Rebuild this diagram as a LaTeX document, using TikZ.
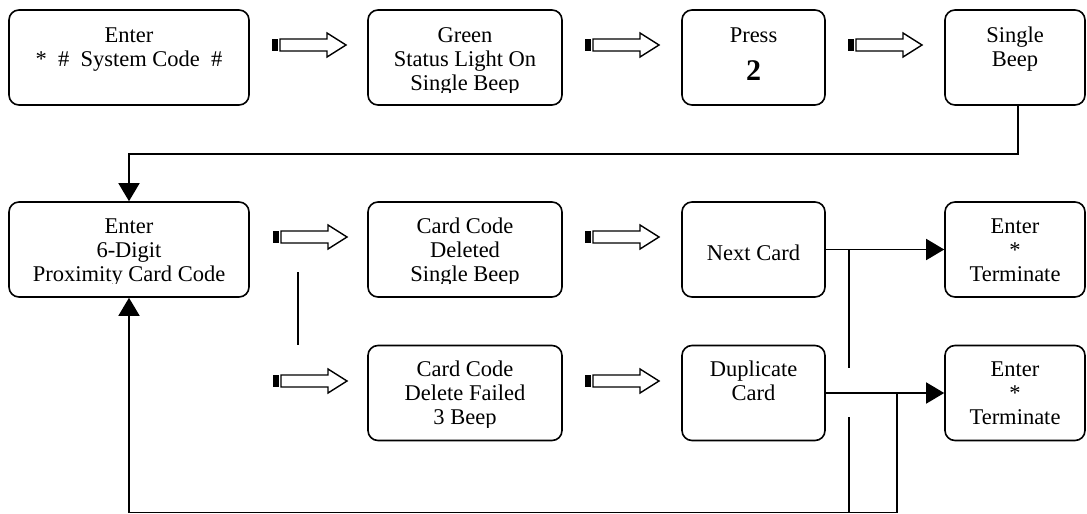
\documentclass[tikz,border=0pt]{standalone}
\usepackage{fontspec}
\setmainfont{Liberation Serif}
\usetikzlibrary{arrows.meta,calc}
\begin{document}
\begin{tikzpicture}[x=1pt,y=-1pt,
  box/.style={draw,line width=1.6pt,rounded corners=10pt,minimum width=#1,minimum height=95pt,inner sep=0pt},
  box/.default=143pt,
  txt/.style={font=\fontsize{22.5}{24}\selectfont,align=center,inner sep=0pt,anchor=base},
  conn/.style={line width=1.6pt},
  tip/.style={conn,-{Triangle[length=18pt,width=21pt]}},
  hollow/.pic={
    \fill (0,-6) rectangle (5.5,6);
    \draw[line width=1.4pt,fill=white] (8,-6) -- (55,-6) -- (55,-12) -- (74,0) -- (55,12) -- (55,6) -- (8,6) -- cycle;
  }]
\useasboundingbox (0,0) rectangle (1087,514);

% boxes
\node[box=240pt] (b1) at (129,57.5) {};
\node[box=194pt] (b2) at (465,57.5) {};
\node[box=143pt] (b3) at (753.5,57.5) {};
\node[box=140pt] (b4) at (1015,57.5) {};
\node[box=240pt] (b5) at (129,249.5) {};
\node[box=194pt] (b6) at (465,249.5) {};
\node[box=143pt] (b7) at (753.5,249.5) {};
\node[box=140pt] (b8) at (1015,249.5) {};
\node[box=194pt] (b9) at (465,393) {};
\node[box=143pt] (b10) at (753.5,393) {};
\node[box=140pt] (b11) at (1015,393) {};

% texts (anchor = baseline of last line)
\node[txt] (t1) at (129,66) {Enter\\* \ \# \ System Code \ \#};
\begin{scope}
  \clip (368,10) rectangle (562,92);
  \node[txt] (t2) at (465,90) {Green\\Status Light On\\Single Beep};
\end{scope}
\node[txt] (t3) at (753.5,42) {Press};
\node[txt,font=\fontsize{30}{30}\selectfont\bfseries] (t3b) at (753.5,80) {2};
\node[txt] (t4) at (1015,66) {Single\\Beep};
\begin{scope}
  \clip (9,202) rectangle (249,283);
  \node[txt] (t5) at (129,281) {Enter\\6-Digit\\Proximity Card Code};
\end{scope}
\begin{scope}
  \clip (368,202) rectangle (562,283);
  \node[txt] (t6) at (465,281) {Card Code\\Deleted\\Single Beep};
\end{scope}
\node[txt] (t7) at (753.5,260) {Next Card};
\node[txt] (t8) at (1015,281) {Enter\\*\\Terminate};
\begin{scope}
  \clip (368,345) rectangle (562,427);
  \node[txt] (t9) at (465,424) {Card Code\\Delete Failed\\3 Beep};
\end{scope}
\node[txt] (t10) at (753.5,400) {Duplicate\\Card};
\node[txt] (t11) at (1015,424) {Enter\\*\\Terminate};

% hollow arrows
\pic (a1) at (272,45) {hollow};
\pic (a2) at (585,45) {hollow};
\pic (a3) at (848,45) {hollow};
\pic (a4) at (273,237) {hollow};
\pic (a5) at (585,237) {hollow};
\pic (a6) at (273,381) {hollow};
\pic (a7) at (585,381) {hollow};

% connectors
\draw[tip] ($(b4.south)+(3,0)$) -- ++(0,48) -| (b5.north);
\coordinate (s1) at (298,272);
\coordinate (s2) at (298,345);
\draw[conn] (s1) -- (s2);
\draw[tip] (b7.east) -- (b8.west);
\draw[tip] (b10.east) -- (b11.west);
\coordinate (j1) at (849,249.5);
\coordinate (j1a) at (849,368);
\coordinate (j1b) at (849,417);
\coordinate (j1c) at (849,513);
\draw[conn] (j1) -- (j1a);
\draw[conn] (j1b) -- (j1c);
\coordinate (j2) at (897,393);
\draw[tip] (j2) |- (129,512.5) -- (b5.south);
\end{tikzpicture}
\end{document}
